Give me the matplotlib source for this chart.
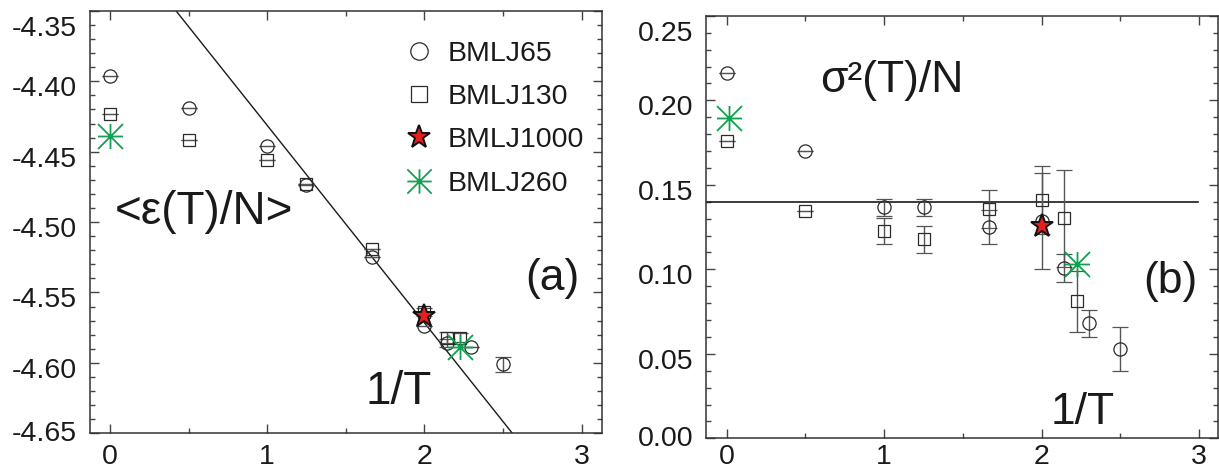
import numpy as np
import matplotlib
matplotlib.use("Agg")
import matplotlib.pyplot as plt
from matplotlib.lines import Line2D
from matplotlib.path import Path
from matplotlib.ticker import MultipleLocator, FormatStrFormatter
from matplotlib.transforms import ScaledTranslation

plt.rcParams['font.family'] = ['Liberation Sans', 'DejaVu Sans']

# --- data ---
inv_T_65 = [0.0, 0.5, 1.0, 1.25, 1.667, 2.0, 2.143, 2.30, 2.50]
inv_T_130 = [0.0, 0.5, 1.0, 1.25, 1.667, 2.0, 2.143, 2.224]
inv_T_1000 = [2.0]
inv_T_260_a = [0.0, 2.224]
inv_T_260_b = [0.012, 2.224]

# (a) mean energy per particle
e_65 = [-4.396, -4.419, -4.446, -4.474, -4.525, -4.574, -4.586, -4.589, -4.601]
e_65_err = [0, 0, 0, 0, 0, 0, 0.003, 0, 0.0055]
e_130 = [-4.423, -4.442, -4.456, -4.473, -4.519, -4.564, -4.582, -4.582]
e_130_err = [0, 0, 0, 0, 0, 0.003, 0.004, 0.003]
e_1000 = [-4.5666]
e_260 = [-4.4387, -4.589]
fit_x = [0.42, 2.56]
fit_y = [-4.35, -4.65]

# (b) energy variance per particle
s_65 = [0.216, 0.170, 0.1367, 0.1367, 0.125, 0.1286, 0.1006, 0.068, 0.053]
s_65_err = [0, 0, 0.005, 0.005, 0.010, 0.0286, 0.0082, 0.0082, 0.013]
s_130 = [0.176, 0.1344, 0.1227, 0.1177, 0.1357, 0.141, 0.1302, 0.0812]
s_130_err = [0, 0, 0.0076, 0.008, 0.0115, 0.020, 0.0286, 0.018]
s_1000 = [0.1256]
s_260 = [0.1893, 0.1031]
s_level = 0.14
s_level_xmax = 2.99

labels = ["BMLJ65", "BMLJ130", "BMLJ1000", "BMLJ260"]

green = '#12a150'
red = '#e3201c'
dark = '#2a2a2a'
errc = '#555555'

# asterisk marker (8 arms)
ast = Path([(-1, 0), (1, 0), (0, -1), (0, 1), (-1, -1), (1, 1), (-1, 1), (1, -1)],
           [Path.MOVETO, Path.LINETO] * 4)

fig = plt.figure(figsize=(12.19, 4.72), dpi=100)
ax1 = fig.add_axes([0.0735, 0.082, 0.4203, 0.895])
ax2 = fig.add_axes([0.5793, 0.0714, 0.4199, 0.895])


def draw_series(ax, x65, y65, err65, x130, y130, err130, x1000, y1000, x260, y260):
    ax.errorbar(x65, y65, yerr=err65, fmt='o', ms=9.5, mfc='none', mec=dark, mew=0.9,
                ecolor=errc, elinewidth=1.0, capsize=5.5, capthick=1.0, zorder=3)
    ax.errorbar(x130, y130, yerr=err130, fmt='s', ms=9, mfc='none', mec=dark, mew=0.9,
                ecolor=errc, elinewidth=1.0, capsize=5.5, capthick=1.0, zorder=3)
    ax.plot(x1000, y1000, ls='none', marker='*', ms=17, mfc=red, mec='#111111', mew=1.4, zorder=5)
    ax.plot(x260, y260, ls='none', marker=ast, ms=18, mfc='none', mec=green, mew=1.3, zorder=4)


def style_axis(ax, ymaj, ymin, fmt, xpad):
    ax.xaxis.set_major_locator(MultipleLocator(1))
    ax.xaxis.set_minor_locator(MultipleLocator(0.5))
    ax.yaxis.set_major_locator(MultipleLocator(ymaj))
    ax.yaxis.set_minor_locator(MultipleLocator(ymin))
    ax.yaxis.set_major_formatter(FormatStrFormatter(fmt))
    ax.tick_params(which='both', direction='in', top=True, right=True,
                   color='#444444', width=1.0, labelsize=20.5, labelcolor='#1a1a1a')
    ax.tick_params(which='major', length=6.5)
    ax.tick_params(which='minor', length=3.5)
    ax.tick_params(axis='x', pad=xpad)
    ax.tick_params(axis='y', pad=9)
    for sp in ax.spines.values():
        sp.set_linewidth(1.1)
        sp.set_color('#333333')


# ---------- panel (a) ----------
draw_series(ax1, inv_T_65, e_65, e_65_err, inv_T_130, e_130, e_130_err,
            inv_T_1000, e_1000, inv_T_260_a, e_260)
ax1.plot(fit_x, fit_y, color='#1a1a1a', lw=1.0, zorder=2)
ax1.set_xlim(-0.13, 3.13)
ax1.set_ylim(-4.65, -4.35)
style_axis(ax1, 0.05, 0.01, '%.2f', 8)
ax1.set_yticks(np.arange(-4.65, -4.349, 0.05))

ax1.text(0.049, 0.5237, "<\u03b5(T)/N>", transform=ax1.transAxes, fontsize=33,
         ha='left', va='center', color='#1a1a1a')
ax1.text(0.9024, 0.3675, "(a)", transform=ax1.transAxes, fontsize=32,
         ha='center', va='center', color='#1a1a1a')
ax1.text(0.6038, 0.0977, "1/T", transform=ax1.transAxes, fontsize=33,
         ha='center', va='center', color='#1a1a1a')

handles = [
    Line2D([], [], ls='none', marker='o', ms=12.5, mfc='none', mec=dark, mew=0.9),
    Line2D([], [], ls='none', marker='s', ms=12, mfc='none', mec=dark, mew=0.9),
    Line2D([], [], ls='none', marker='*', ms=17, mfc=red, mec='#111111', mew=1.4),
    Line2D([], [], ls='none', marker=ast, ms=17.5, mfc='none', mec=green, mew=1.3),
]
leg = ax1.legend(handles, labels, loc='upper left', bbox_to_anchor=(0.605, 0.928),
                 frameon=False, fontsize=20.5, handlelength=1.4, handletextpad=0.3,
                 labelspacing=0.6, borderpad=0, borderaxespad=0)
for t in leg.get_texts():
    t.set_color('#1a1a1a')

# ---------- panel (b) ----------
draw_series(ax2, inv_T_65, s_65, s_65_err, inv_T_130, s_130, s_130_err,
            inv_T_1000, s_1000, inv_T_260_b, s_260)
ax2.plot([-0.13, s_level_xmax], [s_level, s_level], color='#1a1a1a', lw=1.2, zorder=2)
ax2.set_xlim(-0.13, 3.12)
ax2.set_ylim(0.0, 0.25)
style_axis(ax2, 0.05, 0.01, '%.2f', 4)
ax2.set_yticks(np.arange(0.0, 0.251, 0.05))

ax2.text(0.2224, 0.8478, "\u03c3\u00b2(T)/N", transform=ax2.transAxes, fontsize=32,
         ha='left', va='center', color='#1a1a1a')
ax2.text(0.9062, 0.3722, "(b)", transform=ax2.transAxes, fontsize=32,
         ha='center', va='center', color='#1a1a1a')
ax2.text(0.7362, 0.0599, "1/T", transform=ax2.transAxes, fontsize=32,
         ha='center', va='center', color='#1a1a1a')

# shift y tick labels like the original (end labels kept inside the frame)
for ax in (ax1, ax2):
    ticks = ax.yaxis.get_major_ticks()
    n = len(ticks)
    for i, tk in enumerate(ticks):
        if i == n - 1:
            dy = -15
        elif i == 0:
            dy = 2
        else:
            dy = -5
        tk.label1.set_transform(tk.label1.get_transform() +
                                ScaledTranslation(0, dy / 100.0, fig.dpi_scale_trans))

fig.savefig("out.png", dpi=100)
